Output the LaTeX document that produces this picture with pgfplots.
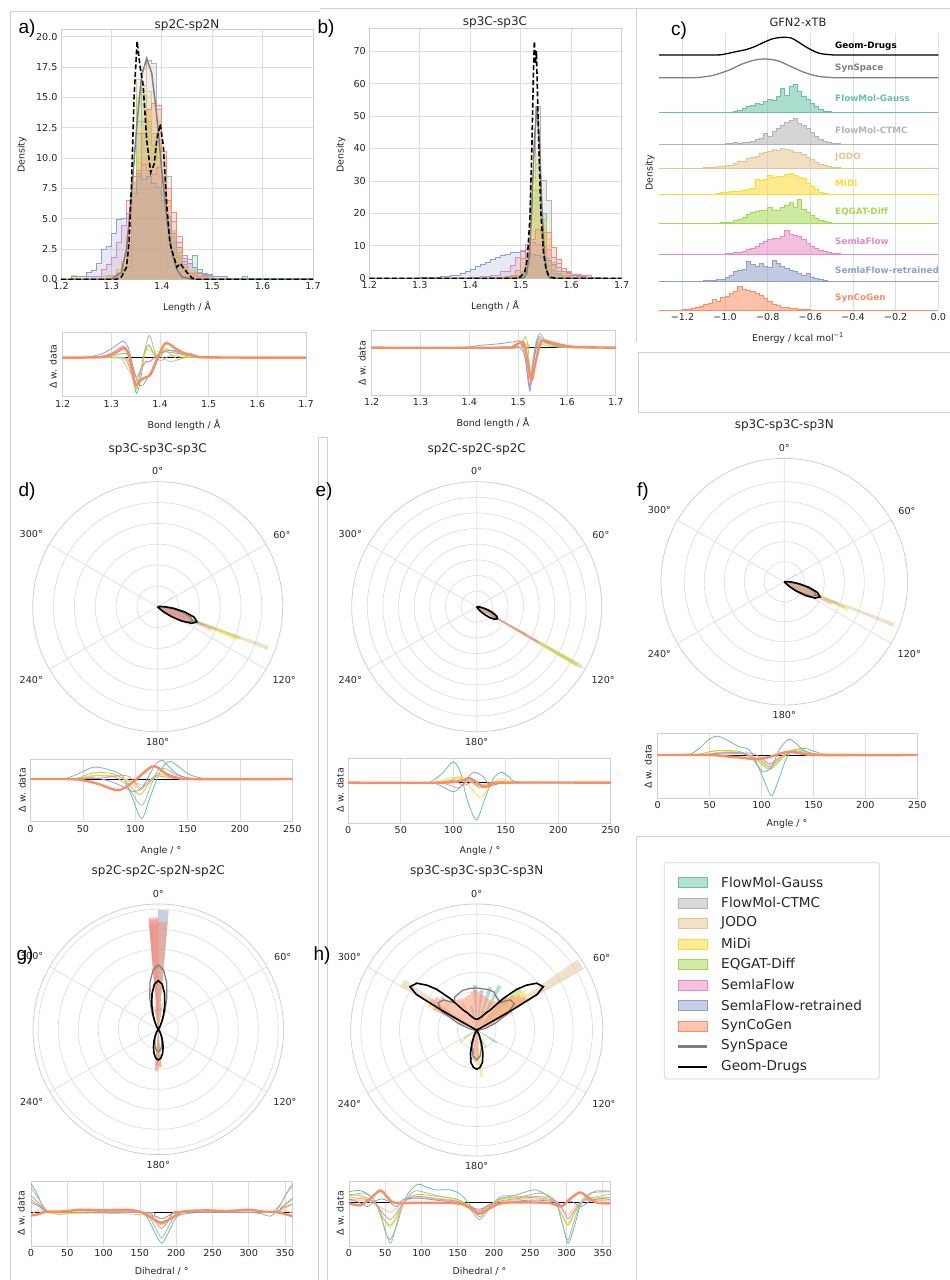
\documentclass[border=0pt]{standalone}
\usepackage{pgfplots}
\pgfplotsset{compat=1.18}
\usepgfplotslibrary{polar}
\usepackage{fontspec}
\setmainfont{DejaVu Sans}
\newfontfamily\lab{Liberation Sans}

\definecolor{cFMG}{HTML}{66C2A5}
\definecolor{cCTMC}{HTML}{B3B3B3}
\definecolor{cJODO}{HTML}{E5C494}
\definecolor{cMiDi}{HTML}{FFD92F}
\definecolor{cEQ}{HTML}{A6D854}
\definecolor{cSemla}{HTML}{E78AC3}
\definecolor{cSemlaR}{HTML}{8DA0CB}
\definecolor{cSyn}{HTML}{FC8D62}
\definecolor{cSS}{HTML}{808080}
\definecolor{gridc}{HTML}{DEDEDE}
\definecolor{framec}{HTML}{CFCFCF}
\definecolor{tickc}{HTML}{262626}
\definecolor{boxc}{HTML}{D0D0D0}

\newcommand{\fTk}{\fontsize{9.6}{11}\selectfont}
\newcommand{\fTtl}{\fontsize{12}{14}\selectfont}
\newcommand{\fLbl}{\fontsize{9.4}{11}\selectfont}
\newcommand{\fPl}{\lab\fontsize{19}{21}\selectfont}
\newcommand{\fRl}{\bfseries\fontsize{8.8}{10}\selectfont}
\newcommand{\fLg}{\fontsize{13.6}{15}\selectfont}

\pgfplotsset{
  base/.style={scale only axis, axis line style={draw=framec, line width=0.8pt},
    major tick length=0pt, grid style={draw=gridc, line width=0.7pt},
    tick label style={font=\fTk, text=tickc},
    /pgf/number format/assume math mode=true},
  hb/.style={const plot, color=#1, fill=#1, fill opacity=0.22, line width=0.9pt},
  dl/.style={color=#1, line width=0.8pt, smooth},
  dth/.style={color=cSyn, line width=2.4pt, smooth},
  rh/.style={const plot, color=#1, fill=#1, fill opacity=0.55, line width=0.9pt},
  pb/.style={draw=none, fill=#1, fill opacity=0.5},
  dax/.style={base, xmajorgrids, ytick=\empty, anchor=south west},
  pol/.style={base, width=#1, height=#1, anchor=center, ymin=0,
    xtick={30,90,150,210,270,330},
    xticklabels={60°,0°,300°,240°,180°,120°},
    xticklabel style={inner sep=6.5pt},
    yticklabels={}, grid=major,
    x filter/.expression={mod(450-x,360)},
    y axis line style={draw=none}},
  ridge/.style={hide axis, scale only axis, width=279.3pt, height=40pt,
    xmin=-1.31, xmax=0, ymin=0, ymax=40, clip=false, anchor=south west},
}

\begin{document}
\begin{tikzpicture}
\useasboundingbox (0,0) rectangle (950pt,-1280pt);

% panel frames
\begin{scope}[boxc, line width=0.7pt]
\draw (10pt,-11pt) -- (320pt,-11pt);
\draw (10pt,-11pt) -- (10pt,-1280pt);
\draw (320pt,-8pt) -- (950pt,-8pt);
\draw (636.7pt,-8pt) -- (636.7pt,-342pt);
\draw (638pt,-352.7pt) rectangle (955pt,-412.3pt);
\draw (318.7pt,-437pt) -- (318.7pt,-1280pt);
\draw (327pt,-437pt) -- (327pt,-1280pt);
\draw (318.7pt,-437pt) -- (327pt,-437pt);
\draw (636.7pt,-836.7pt) -- (950pt,-836.7pt);
\draw (636.7pt,-836.7pt) -- (636.7pt,-1280pt);
\end{scope}

% ---------------- a) sp2C-sp2N
\begin{axis}[base, grid=major, width=252pt, height=250pt, at={(61pt,-279.3pt)}, anchor=south west,
  xmin=1.2, xmax=1.7, ymin=0, ymax=20.6,
  xtick={1.2,1.3,1.4,1.5,1.6,1.7},
  ytick={0,2.5,5,7.5,10,12.5,15,17.5,20},
  yticklabels={0.0,2.5,5.0,7.5,10.0,12.5,15.0,17.5,20.0}]
\addplot[hb=cFMG] coordinates {(1.20,0)(1.22,0.1)(1.30,0.3)(1.32,0.8)(1.33,2.5)(1.34,8.0)(1.35,12.0)(1.36,13.0)(1.37,14.0)(1.38,11.0)(1.39,10.0)(1.40,7.0)(1.41,5.0)(1.42,3.5)(1.43,2.2)(1.44,1.5)(1.45,1.3)(1.46,2.0)(1.47,0.8)(1.48,0.5)(1.49,0.3)(1.50,0.1)(1.56,0.2)(1.57,0.05)(1.70,0)};
\addplot[hb=cCTMC] coordinates {(1.20,0)(1.30,0.3)(1.32,1.0)(1.33,2.5)(1.34,8.0)(1.35,13.0)(1.36,16.0)(1.37,18.0)(1.38,17.8)(1.39,14.0)(1.40,10.5)(1.41,8.5)(1.42,4.0)(1.43,2.0)(1.44,1.0)(1.45,0.6)(1.46,0.3)(1.48,0.1)(1.50,0)(1.70,0)};
\addplot[hb=cJODO] coordinates {(1.20,0)(1.28,0.2)(1.31,0.6)(1.32,1.5)(1.33,3.5)(1.34,8.5)(1.35,16.5)(1.36,17.3)(1.37,15.5)(1.38,14.5)(1.39,13.0)(1.40,9.0)(1.41,6.0)(1.42,3.5)(1.43,2.0)(1.44,1.0)(1.45,0.6)(1.47,0.2)(1.50,0)(1.70,0)};
\addplot[hb=cMiDi] coordinates {(1.20,0)(1.22,0.3)(1.23,0.1)(1.29,0.3)(1.31,0.8)(1.32,1.5)(1.33,3.0)(1.34,7.5)(1.35,10.0)(1.36,12.5)(1.37,14.0)(1.38,12.0)(1.39,11.0)(1.40,8.0)(1.41,6.5)(1.42,4.0)(1.43,2.5)(1.44,1.2)(1.45,0.7)(1.47,0.3)(1.50,0)(1.70,0)};
\addplot[hb=cEQ] coordinates {(1.20,0)(1.30,0.3)(1.32,0.8)(1.33,1.0)(1.34,8.0)(1.35,15.0)(1.36,15.2)(1.37,13.0)(1.38,12.0)(1.39,11.5)(1.40,8.5)(1.41,4.5)(1.42,3.0)(1.43,1.8)(1.44,1.0)(1.45,0.5)(1.47,0.2)(1.50,0)(1.70,0)};
\addplot[hb=cSemla] coordinates {(1.20,0)(1.25,0.2)(1.28,0.8)(1.29,1.2)(1.30,1.8)(1.31,3.0)(1.32,4.4)(1.33,6.5)(1.34,7.5)(1.35,8.5)(1.36,9.5)(1.37,9.0)(1.38,8.6)(1.39,9.2)(1.40,8.0)(1.41,6.5)(1.42,4.8)(1.43,3.5)(1.44,2.0)(1.45,1.6)(1.46,1.0)(1.47,0.6)(1.48,0.3)(1.50,0.1)(1.52,0)(1.70,0)};
\addplot[hb=cSemlaR] coordinates {(1.20,0)(1.22,0.2)(1.25,0.6)(1.26,0.7)(1.27,1.3)(1.28,2.5)(1.29,2.7)(1.30,3.8)(1.31,4.9)(1.32,5.0)(1.33,5.4)(1.34,7.1)(1.35,8.7)(1.36,8.2)(1.37,8.5)(1.38,7.9)(1.39,7.6)(1.40,6.5)(1.41,5.2)(1.42,3.8)(1.43,2.6)(1.44,1.7)(1.45,1.3)(1.46,1.0)(1.47,0.5)(1.48,0.36)(1.50,0.2)(1.53,0.1)(1.54,0)(1.70,0)};
\addplot[hb=cSyn] coordinates {(1.20,0)(1.28,0.1)(1.31,0.5)(1.32,1.0)(1.33,3.0)(1.34,8.5)(1.35,9.0)(1.36,12.0)(1.37,14.0)(1.38,14.5)(1.39,14.3)(1.40,10.5)(1.41,7.5)(1.42,5.5)(1.43,3.0)(1.44,1.2)(1.45,0.5)(1.47,0.2)(1.49,0)(1.70,0)};
\addplot[cSS, line width=1.5pt] coordinates {(1.2,0)(1.30,0)(1.32,0.6)(1.33,2.5)(1.34,7.0)(1.35,12.5)(1.36,16.8)(1.37,18.2)(1.38,17.0)(1.39,13.5)(1.40,9.0)(1.41,5.0)(1.42,2.2)(1.43,0.8)(1.44,0.2)(1.46,0)(1.7,0)};
\addplot[black, line width=1.6pt, dash pattern=on 5pt off 2.5pt] coordinates {(1.2,0)(1.31,0)(1.32,0.2)(1.33,1.0)(1.335,3.0)(1.34,8.0)(1.345,15.0)(1.351,19.6)(1.357,17.5)(1.363,16.0)(1.37,11.5)(1.378,8.8)(1.385,9.5)(1.39,11.5)(1.397,12.8)(1.403,11.0)(1.41,6.0)(1.416,3.0)(1.42,2.4)(1.43,1.0)(1.437,1.3)(1.445,0.8)(1.46,0.1)(1.47,0)(1.7,0)};
\end{axis}

% a) delta
\begin{axis}[dax, width=243.3pt, height=64pt, at={(62.7pt,-396.7pt)},
  xmin=1.2, xmax=1.7, ymin=-6.1, ymax=3.9, xtick={1.2,1.3,1.4,1.5,1.6,1.7}]
\addplot[black, line width=0.6pt] coordinates {(1.2,0)(1.7,0)};
\addplot[dl=cFMG] coordinates {(1.2,0)(1.29,0.1)(1.32,0.6)(1.335,0.3)(1.345,-3.5)(1.352,-5.6)(1.36,-3.5)(1.368,0.5)(1.377,2.0)(1.385,1.0)(1.395,0.3)(1.41,1.2)(1.43,1.0)(1.45,0.4)(1.48,0.1)(1.5,0)(1.7,0)};
\addplot[dl=cCTMC] coordinates {(1.2,0)(1.30,0)(1.33,-0.4)(1.345,-3.5)(1.352,-4.8)(1.36,-2.5)(1.368,1.0)(1.378,3.5)(1.387,1.5)(1.395,-0.2)(1.405,-0.4)(1.42,0.3)(1.44,0.2)(1.46,0.05)(1.7,0)};
\addplot[dl=cJODO] coordinates {(1.2,0)(1.30,0)(1.32,-0.1)(1.35,-3.7)(1.36,-2.0)(1.37,-0.9)(1.385,-0.3)(1.40,0.2)(1.42,-0.6)(1.44,-0.3)(1.47,0)(1.7,0)};
\addplot[dl=cMiDi] coordinates {(1.2,0)(1.31,0)(1.335,-0.5)(1.35,-4.6)(1.36,-2.0)(1.372,1.2)(1.385,0.9)(1.40,1.0)(1.41,1.5)(1.43,0.8)(1.45,0.2)(1.48,0)(1.7,0)};
\addplot[dl=cEQ] coordinates {(1.2,0)(1.31,0)(1.335,-0.5)(1.35,-5.0)(1.36,-2.0)(1.368,0.8)(1.377,2.0)(1.388,0.4)(1.40,0.1)(1.41,1.1)(1.425,0.3)(1.44,-0.3)(1.455,0.2)(1.48,0)(1.7,0)};
\addplot[dl=cSemla] coordinates {(1.2,0)(1.27,0.1)(1.30,0.7)(1.325,1.8)(1.337,0.5)(1.35,-3.0)(1.36,-2.0)(1.37,-0.6)(1.38,-0.6)(1.39,0.2)(1.41,0.9)(1.44,0.6)(1.46,0.7)(1.48,0.2)(1.5,0)(1.7,0)};
\addplot[dl=cSemlaR] coordinates {(1.2,0)(1.25,0.1)(1.28,0.6)(1.30,1.4)(1.315,2.2)(1.325,2.6)(1.335,1.5)(1.345,-1.5)(1.355,-4.0)(1.365,-4.3)(1.375,-3.0)(1.385,-1.6)(1.395,0.2)(1.41,1.0)(1.43,1.1)(1.45,0.6)(1.47,0.3)(1.49,0.05)(1.7,0)};
\addplot[dth] coordinates {(1.2,0)(1.28,0.1)(1.31,0.8)(1.325,1.5)(1.335,0.6)(1.343,-2.0)(1.35,-4.3)(1.36,-3.5)(1.37,-3.1)(1.38,-2.7)(1.39,-1.0)(1.40,0.8)(1.41,2.2)(1.42,2.1)(1.43,1.5)(1.45,0.7)(1.47,0.3)(1.5,0.05)(1.7,0)};
\end{axis}

% ---------------- b) sp3C-sp3C
\begin{axis}[base, grid=major, width=252.4pt, height=250pt, at={(369.3pt,-278.3pt)}, anchor=south west,
  xmin=1.2, xmax=1.7, ymin=0, ymax=77,
  xtick={1.2,1.3,1.4,1.5,1.6,1.7}, ytick={0,10,20,30,40,50,60,70}]
\addplot[hb=cFMG] coordinates {(1.20,0)(1.44,0.2)(1.47,0.5)(1.49,1.0)(1.50,2.0)(1.51,4.0)(1.52,25.0)(1.53,27.0)(1.54,20.0)(1.55,6.0)(1.56,2.5)(1.57,1.2)(1.58,0.5)(1.60,0.2)(1.62,0)(1.70,0)};
\addplot[hb=cCTMC] coordinates {(1.20,0)(1.45,0.2)(1.48,0.6)(1.50,1.5)(1.51,4.0)(1.52,27.0)(1.53,53.0)(1.54,30.0)(1.55,24.0)(1.56,5.0)(1.57,2.0)(1.58,0.8)(1.60,0.3)(1.62,0)(1.70,0)};
\addplot[hb=cJODO] coordinates {(1.20,0)(1.46,0.3)(1.48,0.8)(1.50,2.0)(1.51,6.0)(1.52,25.0)(1.53,38.0)(1.54,18.0)(1.55,10.0)(1.56,4.0)(1.57,1.5)(1.58,0.6)(1.60,0.2)(1.62,0)(1.70,0)};
\addplot[hb=cMiDi] coordinates {(1.20,0)(1.46,0.3)(1.48,0.8)(1.50,2.0)(1.51,5.0)(1.52,18.0)(1.53,30.0)(1.54,15.0)(1.55,12.0)(1.56,4.0)(1.57,1.5)(1.59,0.4)(1.62,0)(1.70,0)};
\addplot[hb=cEQ] coordinates {(1.20,0)(1.46,0.3)(1.48,0.8)(1.50,2.0)(1.51,4.0)(1.52,31.0)(1.53,35.0)(1.54,18.0)(1.55,4.0)(1.56,1.5)(1.58,0.4)(1.60,0)(1.70,0)};
\addplot[hb=cSemla] coordinates {(1.20,0)(1.40,0.3)(1.42,0.6)(1.44,1.0)(1.46,2.0)(1.48,4.0)(1.49,6.5)(1.50,8.5)(1.51,10.5)(1.52,11.0)(1.53,10.5)(1.54,9.8)(1.55,9.0)(1.56,6.5)(1.57,4.5)(1.58,3.0)(1.59,2.0)(1.60,1.3)(1.62,0.8)(1.64,0.4)(1.66,0.1)(1.68,0)(1.70,0)};
\addplot[hb=cSemlaR] coordinates {(1.20,0)(1.30,0.15)(1.32,0.3)(1.34,0.6)(1.36,1.0)(1.38,1.6)(1.39,2.2)(1.40,2.8)(1.41,3.5)(1.42,4.3)(1.43,5.0)(1.44,5.8)(1.45,6.4)(1.46,7.0)(1.47,7.5)(1.48,7.9)(1.49,8.1)(1.50,8.2)(1.51,7.7)(1.52,7.3)(1.53,7.0)(1.54,6.3)(1.55,5.5)(1.56,4.3)(1.57,3.2)(1.58,2.2)(1.59,1.5)(1.60,1.0)(1.61,0.6)(1.63,0.3)(1.65,0.1)(1.67,0)(1.70,0)};
\addplot[hb=cSyn] coordinates {(1.20,0)(1.46,0.3)(1.48,1.0)(1.49,2.5)(1.50,6.0)(1.51,9.0)(1.52,12.0)(1.53,15.0)(1.54,14.0)(1.55,14.0)(1.56,9.5)(1.57,5.8)(1.58,3.0)(1.59,1.8)(1.60,0.8)(1.62,0.3)(1.64,0)(1.70,0)};
\addplot[cSS, line width=1.5pt] coordinates {(1.2,0)(1.50,0)(1.507,0.2)(1.512,1.5)(1.517,7.2)(1.522,21.8)(1.527,42.4)(1.532,53)(1.537,42.4)(1.542,21.8)(1.547,7.2)(1.552,1.5)(1.557,0.2)(1.565,0)(1.7,0)};
\addplot[black, line width=1.6pt, dash pattern=on 5pt off 2.5pt] coordinates {(1.2,0)(1.49,0)(1.50,0.5)(1.508,2)(1.513,6)(1.518,18)(1.522,40)(1.525,62)(1.527,73)(1.529,66)(1.531,70)(1.533,58)(1.536,40)(1.54,20)(1.545,8)(1.55,3)(1.555,1)(1.56,0.3)(1.57,0)(1.7,0)};
\end{axis}

% b) delta
\begin{axis}[dax, width=244.1pt, height=64.3pt, at={(371.7pt,-395pt)},
  xmin=1.2, xmax=1.7, ymin=-7.36, ymax=2.64, xtick={1.2,1.3,1.4,1.5,1.6,1.7}]
\addplot[black, line width=0.6pt] coordinates {(1.2,0)(1.7,0)};
\addplot[dl=cFMG] coordinates {(1.2,0)(1.5,0)(1.515,-0.5)(1.525,-3.9)(1.533,-0.8)(1.542,1.7)(1.555,1.0)(1.58,0.3)(1.61,0)(1.7,0)};
\addplot[dl=cCTMC] coordinates {(1.2,0)(1.48,0)(1.505,-0.2)(1.515,-1.7)(1.523,-5.8)(1.53,-2)(1.537,1.0)(1.545,2.2)(1.555,1.2)(1.575,0.5)(1.6,0.1)(1.7,0)};
\addplot[dl=cJODO] coordinates {(1.2,0)(1.5,0)(1.515,0.4)(1.525,-3.5)(1.535,-1.0)(1.55,0.7)(1.58,0.2)(1.7,0)};
\addplot[dl=cMiDi] coordinates {(1.2,0)(1.5,0)(1.515,0.3)(1.525,-4.1)(1.535,-0.8)(1.545,1.2)(1.56,0.6)(1.6,0)(1.7,0)};
\addplot[dl=cEQ] coordinates {(1.2,0)(1.49,0)(1.505,0.6)(1.515,1.7)(1.52,0.2)(1.526,-4.5)(1.533,-1.5)(1.54,0.5)(1.56,0.3)(1.6,0)(1.7,0)};
\addplot[dl=cSemla] coordinates {(1.2,0)(1.48,0.1)(1.51,0.4)(1.518,-2)(1.524,-6.8)(1.53,-3)(1.54,0.8)(1.56,0.8)(1.58,0.4)(1.6,0.1)(1.7,0)};
\addplot[dl=cSemlaR] coordinates {(1.2,0)(1.38,0.05)(1.42,0.35)(1.46,0.6)(1.49,0.9)(1.505,0.9)(1.515,-2)(1.523,-6.3)(1.53,-3)(1.54,1.2)(1.55,1.0)(1.57,0.5)(1.6,0.1)(1.7,0)};
\addplot[dth] coordinates {(1.2,0)(1.47,0)(1.49,0.2)(1.51,0.9)(1.518,-1.5)(1.527,-5.1)(1.535,-2.5)(1.545,0.6)(1.553,1.1)(1.57,0.8)(1.59,0.4)(1.62,0.1)(1.7,0)};
\end{axis}

% ---------------- c) GFN2-xTB ridge plot
\begin{axis}[base, width=279.3pt, height=276.7pt, at={(659pt,-310pt)}, anchor=south west,
  xmin=-1.31, xmax=0, ymin=0, ymax=1, xmajorgrids, ytick=\empty,
  axis line style={draw=none},
  xtick={-1.2,-1,-0.8,-0.6,-0.4,-0.2,0},
  xticklabels={−1.2,−1.0,−0.8,−0.6,−0.4,−0.2,0.0}]
\end{axis}
\begin{axis}[ridge, at={(659pt,-55pt)}]
\addplot[black, line width=1.3pt, smooth] coordinates {(-1.31,0)(-1.05,0)(-1.0,1.0)(-0.95,3.3)(-0.9,5.5)(-0.86,8.5)(-0.82,12.5)(-0.78,16)(-0.75,17.3)(-0.72,17.7)(-0.69,17)(-0.66,13.5)(-0.62,8)(-0.58,3.5)(-0.55,1.3)(-0.50,0.2)(-0.45,0)(0,0)};
\end{axis}
\begin{axis}[ridge, at={(659pt,-77.7pt)}]
\addplot[cSS, line width=1.3pt, smooth] coordinates {(-1.31,0)(-1.15,0)(-1.10,0.8)(-1.05,2.7)(-0.98,7.7)(-0.92,13.7)(-0.86,17.7)(-0.805,18.7)(-0.75,16.7)(-0.69,11)(-0.625,5)(-0.56,1.3)(-0.50,0.2)(-0.45,0)(0,0)};
\end{axis}
\begin{axis}[ridge, at={(659pt,-112.7pt)}]
\addplot[cFMG, line width=1pt] coordinates {(-1.31,0)(0,0)};
\addplot[rh=cFMG] coordinates {(-1.02,0)(-1.00,0.3)(-0.98,0.5)(-0.96,1.5)(-0.94,2.5)(-0.92,4)(-0.90,6)(-0.88,7)(-0.86,9)(-0.84,8)(-0.82,11)(-0.80,13)(-0.78,12)(-0.76,16)(-0.74,24)(-0.72,17)(-0.70,26)(-0.68,28)(-0.66,21)(-0.64,16)(-0.62,13)(-0.60,9)(-0.58,6)(-0.56,3)(-0.54,1.5)(-0.52,0.8)(-0.50,0.5)(-0.48,0.3)(-0.46,0)};
\end{axis}
\begin{axis}[ridge, at={(659pt,-144pt)}]
\addplot[cCTMC, line width=1pt] coordinates {(-1.31,0)(0,0)};
\addplot[rh=cCTMC] coordinates {(-1.02,0)(-1.00,0.3)(-0.98,0.6)(-0.96,1.3)(-0.94,1)(-0.92,1.3)(-0.90,2)(-0.88,2.5)(-0.86,4.5)(-0.84,6)(-0.82,10.7)(-0.80,8)(-0.78,12.5)(-0.76,16)(-0.74,19)(-0.72,22)(-0.70,24)(-0.68,25.7)(-0.66,21)(-0.64,19)(-0.62,15.5)(-0.60,12)(-0.58,7.5)(-0.56,4.5)(-0.54,3)(-0.52,2)(-0.50,1)(-0.48,0.5)(-0.46,0)};
\end{axis}
\begin{axis}[ridge, at={(659pt,-168.3pt)}]
\addplot[cJODO, line width=1pt] coordinates {(-1.31,0)(0,0)};
\addplot[rh=cJODO] coordinates {(-1.12,0)(-1.10,0.5)(-1.08,0.7)(-1.06,1)(-1.04,1.5)(-1.02,2)(-1.00,2.5)(-0.98,3)(-0.96,5)(-0.94,6.5)(-0.92,7)(-0.90,10)(-0.88,11)(-0.86,12)(-0.84,15)(-0.82,15.5)(-0.80,17)(-0.78,18.5)(-0.76,18)(-0.74,20)(-0.72,19)(-0.70,18)(-0.68,16)(-0.66,15.5)(-0.64,14)(-0.62,11)(-0.60,9)(-0.58,5.5)(-0.56,4)(-0.54,2.5)(-0.52,1.5)(-0.50,0.8)(-0.48,0.4)(-0.46,0)};
\end{axis}
\begin{axis}[ridge, at={(659pt,-194pt)}]
\addplot[cMiDi, line width=1pt] coordinates {(-1.31,0)(0,0)};
\addplot[rh=cMiDi] coordinates {(-1.06,0)(-1.04,0.8)(-1.02,1.3)(-1.00,1.5)(-0.98,2.3)(-0.96,2.3)(-0.94,3)(-0.92,4)(-0.90,5)(-0.88,6)(-0.86,15)(-0.84,14)(-0.82,14.5)(-0.80,19)(-0.78,17)(-0.76,17.5)(-0.74,18)(-0.72,20)(-0.70,20.5)(-0.68,19)(-0.66,17)(-0.64,15.5)(-0.62,11)(-0.60,8)(-0.58,5)(-0.56,1.5)(-0.54,0.5)(-0.52,0)};
\end{axis}
\begin{axis}[ridge, at={(659pt,-223.3pt)}]
\addplot[cEQ, line width=1pt] coordinates {(-1.31,0)(0,0)};
\addplot[rh=cEQ] coordinates {(-1.04,0)(-1.02,0.5)(-1.00,0.7)(-0.98,1.3)(-0.96,2.7)(-0.94,4)(-0.92,5.5)(-0.90,9)(-0.88,10.5)(-0.86,11.7)(-0.84,12.5)(-0.82,13.3)(-0.80,16)(-0.78,13)(-0.76,12.7)(-0.74,15.5)(-0.72,18)(-0.70,20.7)(-0.68,16)(-0.66,24)(-0.64,14)(-0.62,11)(-0.60,8)(-0.58,5)(-0.56,3)(-0.54,1.5)(-0.52,0.7)(-0.50,0)};
\end{axis}
\begin{axis}[ridge, at={(659pt,-254.3pt)}]
\addplot[cSemla, line width=1pt] coordinates {(-1.31,0)(0,0)};
\addplot[rh=cSemla] coordinates {(-1.02,0)(-1.00,0.5)(-0.98,1)(-0.96,1.7)(-0.94,2.3)(-0.92,3)(-0.90,4.5)(-0.88,6)(-0.86,8)(-0.84,10.5)(-0.82,13)(-0.80,15)(-0.78,15.5)(-0.76,16)(-0.74,17.5)(-0.72,24)(-0.70,19.5)(-0.68,18.5)(-0.66,17.5)(-0.64,15)(-0.62,11)(-0.60,8)(-0.58,5.5)(-0.56,3.5)(-0.54,2.5)(-0.52,1.5)(-0.50,1)(-0.48,0.7)(-0.46,0.3)(-0.44,0)};
\end{axis}
\begin{axis}[ridge, at={(659pt,-281.7pt)}]
\addplot[cSemlaR, line width=1pt] coordinates {(-1.31,0)(0,0)};
\addplot[rh=cSemlaR] coordinates {(-1.16,0)(-1.14,0.5)(-1.12,0.7)(-1.10,0.9)(-1.08,1.2)(-1.06,1.7)(-1.04,2)(-1.02,2.5)(-1.00,4)(-0.98,6.7)(-0.96,10)(-0.94,11.7)(-0.92,12)(-0.90,20)(-0.88,17)(-0.86,15)(-0.84,18.5)(-0.82,15.5)(-0.80,14.5)(-0.78,21.5)(-0.76,18)(-0.74,15)(-0.72,13)(-0.70,11.5)(-0.68,10)(-0.66,8.5)(-0.64,6.5)(-0.62,8)(-0.60,4)(-0.58,3)(-0.56,1.8)(-0.54,1)(-0.52,0.5)(-0.50,0)};
\end{axis}
\begin{axis}[ridge, at={(659pt,-310pt)}]
\addplot[cSyn, line width=1pt] coordinates {(-1.31,0)(0,0)};
\addplot[rh=cSyn] coordinates {(-1.22,0)(-1.20,0.5)(-1.18,1)(-1.16,2)(-1.14,3)(-1.12,4)(-1.10,5.5)(-1.08,7)(-1.06,11)(-1.04,9)(-1.02,13)(-1.00,14)(-0.98,16.5)(-0.96,19)(-0.94,23.5)(-0.92,21)(-0.90,20)(-0.88,19)(-0.86,17)(-0.84,15)(-0.82,12)(-0.80,8.5)(-0.78,6)(-0.76,4.5)(-0.74,3)(-0.72,2.5)(-0.70,1.8)(-0.68,1.2)(-0.66,0.8)(-0.64,0.5)(-0.62,0.3)(-0.60,0)};
\end{axis}

% ---------------- d) sp3C-sp3C-sp3C
\begin{polaraxis}[pol=250pt, at={(157.7pt,-606.7pt)}, ymax=125,
  ytick={20.83,41.67,62.5,83.33,104.17}]
\addplot[pb=cSemlaR] coordinates {(94,0)(94,8)(98,8)(98,18)(102,18)(102,28)(106,28)(106,36)(110,36)(110,40)(114,40)(114,30)(118,30)(118,18)(122,18)(122,8)(126,8)(126,3)(130,3)(130,0)};
\addplot[pb=cSemla] coordinates {(98,0)(98,12)(102,12)(102,24)(106,24)(106,36)(110,36)(110,44)(114,44)(114,34)(118,34)(118,20)(122,20)(122,8)(126,8)(126,0)};
\addplot[pb=cJODO] coordinates {(109.5,0)(109.5,118)(111.5,118)(111.5,0)};
\addplot[pb=cEQ] coordinates {(110,0)(110,88)(112,88)(112,0)};
\addplot[pb=cEQ] coordinates {(56,0)(56,18)(58,18)(58,0)};
\addplot[pb=cMiDi] coordinates {(111,0)(111,85)(113,85)(113,0)};
\addplot[pb=cCTMC] coordinates {(110,0)(110,62)(112,62)(112,0)};
\addplot[pb=cFMG] coordinates {(110.5,0)(110.5,50)(112.5,50)(112.5,0)};
\addplot[pb=cSyn] coordinates {(96,0)(96,6)(100,6)(100,14)(104,14)(104,26)(108,26)(108,38)(112,38)(112,58)(114,58)(114,40)(116,40)(116,30)(120,30)(120,16)(124,16)(124,7)(128,7)(128,2)(132,2)(132,0)};
\addplot[cSS, line width=1.3pt] coordinates {(62,0)(82,0.4)(87,1.7)(92,5.1)(97,12.3)(102,23.1)(107,33.5)(112,38)(117,33.5)(122,23.1)(127,12.3)(132,5.1)(137,1.7)(142,0.4)(162,0)};
\addplot[black, line width=1.6pt] coordinates {(56,0)(76,0.3)(81,1.0)(86,3.2)(91,8.0)(96,16.6)(101,27.8)(106,37.9)(111,42)(116,37.9)(121,27.8)(126,16.6)(131,8.0)(136,3.2)(141,1.0)(146,0.3)(166,0)};
\end{polaraxis}

% d) delta
\begin{axis}[dax, width=261.8pt, height=62.4pt, at={(30.5pt,-821.7pt)},
  xmin=0, xmax=250, ymin=-6.84, ymax=3.16, xtick={0,50,100,150,200,250}]
\addplot[black, line width=0.6pt] coordinates {(0,0)(250,0)};
\addplot[dl=cFMG] coordinates {(0,0)(30,0)(45,0.8)(60,1.9)(75,1.5)(88,0.5)(96,-2.5)(106,-6.3)(114,-3)(122,0.5)(128,2.3)(134,2.8)(142,1.9)(152,0.7)(165,0.1)(180,0)(250,0)};
\addplot[dl=cCTMC] coordinates {(0,0)(40,0)(60,0.5)(80,0.3)(92,-1.0)(106,-4.2)(115,-1.0)(122,1.5)(130,1.6)(140,0.6)(155,0.1)(170,0)(250,0)};
\addplot[dl=cJODO] coordinates {(0,0)(40,0)(65,0.6)(85,0.3)(100,-0.6)(110,-1.0)(120,0.3)(132,0.5)(150,0.1)(250,0)};
\addplot[dl=cMiDi] coordinates {(0,0)(40,0)(60,0.6)(80,0.5)(95,-0.4)(105,-1.8)(113,-0.3)(122,0.7)(132,0.5)(150,0.1)(250,0)};
\addplot[dl=cEQ] coordinates {(0,0)(40,0)(60,1.0)(80,0.8)(92,-0.5)(104,-2.5)(112,-1.0)(120,0.8)(128,0.9)(140,0.3)(160,0)(250,0)};
\addplot[dl=cSemla] coordinates {(0,0)(40,0)(70,0.2)(85,0.6)(95,0.3)(105,-1.5)(112,-0.5)(120,0.5)(130,0.3)(150,0)(250,0)};
\addplot[dl=cSemlaR] coordinates {(0,0)(40,0)(60,0.2)(75,-0.3)(88,-1.2)(98,-2.0)(106,-1.5)(114,0.8)(120,2.5)(126,3.0)(132,2.0)(140,0.8)(150,0.2)(165,0)(250,0)};
\addplot[dth] coordinates {(0,0)(35,0)(50,-0.2)(65,-0.8)(76,-1.5)(84,-1.8)(92,-1.2)(100,-0.2)(108,1.0)(116,2.0)(122,1.8)(130,0.8)(140,0.2)(155,0)(250,0)};
\end{axis}

% ---------------- e) sp2C-sp2C-sp2C
\begin{polaraxis}[pol=250pt, at={(476.7pt,-606.7pt)}, ymax=125,
  ytick={15.625,31.25,46.875,62.5,78.125,93.75,109.375}]
\addplot[pb=cSemlaR] coordinates {(104,0)(104,6)(108,6)(108,12)(112,12)(112,18)(116,18)(116,24)(120,24)(120,20)(124,20)(124,12)(128,12)(128,6)(132,6)(132,0)};
\addplot[pb=cJODO] coordinates {(118.8,0)(118.8,121)(121,121)(121,0)};
\addplot[pb=cMiDi] coordinates {(119,0)(119,110)(121,110)(121,0)};
\addplot[pb=cEQ] coordinates {(119,0)(119,116)(120.8,116)(120.8,0)};
\addplot[pb=cCTMC] coordinates {(119,0)(119,70)(121,70)(121,0)};
\addplot[pb=cSemla] coordinates {(119,0)(119,72)(121,72)(121,0)};
\addplot[pb=cSyn] coordinates {(106,0)(106,6)(110,6)(110,12)(114,12)(114,20)(118,20)(118,57)(121,57)(121,20)(124,20)(124,12)(128,12)(128,5)(132,5)(132,0)};
\addplot[cSS, line width=1.3pt] coordinates {(76,0)(91,0.5)(96,1.7)(101,4.2)(106,8.7)(111,14.5)(116,19.8)(121,22)(126,19.8)(131,14.5)(136,8.7)(141,4.2)(146,1.7)(151,0.5)(166,0)};
\addplot[black, line width=1.6pt] coordinates {(70,0)(85,0.3)(90,1.1)(95,2.7)(100,6)(105,11)(110,17)(115,22)(120,24)(125,22)(130,17)(135,11)(140,6)(145,2.7)(150,1.1)(155,0.3)(170,0)};
\end{polaraxis}

% e) delta
\begin{axis}[dax, width=262.4pt, height=65pt, at={(348.3pt,-823.3pt)},
  xmin=0, xmax=250, ymin=-6.25, ymax=3.75, xtick={0,50,100,150,200,250}]
\addplot[black, line width=0.6pt] coordinates {(0,0)(250,0)};
\addplot[dl=cFMG] coordinates {(0,0)(70,0)(80,0.3)(90,1.5)(100,3.2)(107,1.5)(113,-2.5)(122,-5.7)(130,-2.5)(138,0.6)(146,1.6)(154,0.8)(165,0.1)(250,0)};
\addplot[dl=cCTMC] coordinates {(0,0)(80,0)(95,-0.3)(105,-0.8)(115,0.3)(125,-0.8)(135,-0.3)(145,0.2)(160,0)(250,0)};
\addplot[dl=cJODO] coordinates {(0,0)(80,0)(95,0.3)(105,0.9)(115,0.4)(125,-0.4)(140,0.2)(155,0)(250,0)};
\addplot[dl=cMiDi] coordinates {(0,0)(75,0)(90,0.4)(100,0.8)(110,0.5)(120,-1.5)(127,-2.2)(135,-0.5)(145,0.6)(155,0.2)(165,0)(250,0)};
\addplot[dl=cEQ] coordinates {(0,0)(80,0)(95,0.2)(105,0.6)(115,0.2)(125,-0.5)(135,-0.2)(150,0)(250,0)};
\addplot[dl=cSemla] coordinates {(0,0)(80,0)(100,0.3)(110,-0.4)(120,0.2)(130,-0.6)(140,-0.3)(155,0)(250,0)};
\addplot[dl=cSemlaR] coordinates {(0,0)(75,0)(88,-0.5)(100,-1.4)(108,-0.5)(115,1.0)(120,1.6)(128,1.0)(135,-0.4)(142,-0.2)(155,0)(250,0)};
\addplot[dth] coordinates {(0,0)(85,0)(100,0.1)(110,0.4)(115,0.7)(122,0.1)(128,-0.6)(135,-0.5)(145,0)(250,0)};
\end{axis}

% ---------------- f) sp3C-sp3C-sp3N
\begin{polaraxis}[pol=246.6pt, at={(784.3pt,-581.7pt)}, ymax=123.3,
  ytick={20,40,60,80,100}]
\addplot[pb=cSemlaR] coordinates {(96,0)(96,8)(100,8)(100,16)(104,16)(104,26)(108,26)(108,34)(112,34)(112,38)(116,38)(116,28)(120,28)(120,16)(124,16)(124,7)(128,7)(128,0)};
\addplot[pb=cJODO] coordinates {(110.5,0)(110.5,118)(112.5,118)(112.5,0)};
\addplot[pb=cMiDi] coordinates {(112.5,0)(112.5,70)(114.5,70)(114.5,0)};
\addplot[pb=cEQ] coordinates {(112,0)(112,66)(114,66)(114,0)};
\addplot[pb=cCTMC] coordinates {(111,0)(111,58)(113,58)(113,0)};
\addplot[pb=cFMG] coordinates {(58,0)(58,15)(60,15)(60,0)};
\addplot[pb=cSyn] coordinates {(98,0)(98,8)(102,8)(102,18)(106,18)(106,30)(110,30)(110,40)(114,40)(114,52)(116,52)(116,30)(118,30)(118,26)(122,26)(122,12)(126,12)(126,4)(130,4)(130,0)};
\addplot[cSS, line width=1.3pt] coordinates {(63,0)(83,0.4)(88,1.5)(93,4.7)(98,11.4)(103,21.2)(108,30.9)(113,35)(118,30.9)(123,21.2)(128,11.4)(133,4.7)(138,1.5)(143,0.4)(163,0)};
\addplot[black, line width=1.6pt] coordinates {(58,0)(78,0.3)(83,0.94)(88,2.9)(93,7.4)(98,15.3)(103,25.6)(108,34.9)(113,38.7)(118,34.9)(123,25.6)(128,15.3)(133,7.4)(138,2.9)(143,0.94)(148,0.3)(168,0)};
\end{polaraxis}

% f) delta
\begin{axis}[dax, width=259.6pt, height=65pt, at={(657.7pt,-798.3pt)},
  xmin=0, xmax=250, ymin=-6.66, ymax=3.34, xtick={0,50,100,150,200,250}]
\addplot[black, line width=0.6pt] coordinates {(0,0)(250,0)};
\addplot[dl=cFMG] coordinates {(0,0)(28,0)(40,1.0)(50,2.5)(58,2.9)(68,2.2)(78,1.3)(88,0.8)(96,-1.5)(104,-4.5)(110,-6.3)(117,-3.5)(125,-0.2)(133,0.8)(142,1.0)(152,0.5)(170,0)(250,0)};
\addplot[dl=cCTMC] coordinates {(0,0)(40,0)(60,0.3)(85,0.2)(100,-1.0)(108,-1.8)(118,-0.5)(130,0.5)(140,0.5)(155,0.1)(250,0)};
\addplot[dl=cJODO] coordinates {(0,0)(40,0)(60,0.4)(80,0.3)(100,-0.8)(108,-1.5)(120,-0.3)(132,0.7)(145,0.2)(250,0)};
\addplot[dl=cMiDi] coordinates {(0,0)(35,0)(55,0.6)(80,0.4)(95,-0.6)(108,-2.0)(118,-0.6)(128,0.7)(136,0.9)(150,0.2)(250,0)};
\addplot[dl=cEQ] coordinates {(0,0)(35,0)(50,0.5)(60,0.7)(80,0.5)(95,-0.8)(108,-2.2)(118,-0.8)(128,0.6)(136,0.8)(150,0.2)(165,0)(250,0)};
\addplot[dl=cSemla] coordinates {(0,0)(40,0)(70,0.2)(90,0.3)(100,-0.5)(108,-1.3)(118,-0.3)(128,0.4)(145,0.1)(250,0)};
\addplot[dl=cSemlaR] coordinates {(0,0)(40,0)(60,0.3)(80,0.3)(90,-0.4)(97,-1.8)(102,-2.6)(110,-1.8)(117,0.8)(126,2.4)(133,1.8)(140,0.8)(150,0.2)(165,0)(250,0)};
\addplot[dth] coordinates {(0,0)(50,0)(65,-0.2)(80,-0.4)(92,-0.6)(102,-0.5)(112,-0.1)(122,0.4)(130,0.5)(140,0.2)(155,0)(250,0)};
\end{axis}

% ---------------- g) sp2C-sp2C-sp2N-sp2C
\begin{polaraxis}[pol=250.6pt, at={(158.3pt,-1029.3pt)}, ymax=125.3,
  ytick={20,40,60,80,100,120}]
\addplot[pb=cSemlaR] coordinates {(0,0)(0,119.3)(5,119.3)(5,0)};
\addplot[pb=cSemlaR] coordinates {(355,0)(355,105)(360,105)(360,0)};
\addplot[pb=cSemlaR] coordinates {(175,0)(175,30)(180,30)(180,32)(185,32)(185,0)};
\addplot[pb=cJODO] coordinates {(355,0)(355,108)(360,108)(360,0)};
\addplot[pb=cJODO] coordinates {(180,0)(180,43)(185,43)(185,0)};
\addplot[pb=cSemla] coordinates {(355,0)(355,112)(360,112)(360,0)};
\addplot[pb=cSemla] coordinates {(180,0)(180,40.7)(185,40.7)(185,0)};
\addplot[pb=cEQ] coordinates {(175,0)(175,38)(180,38)(180,0)};
\addplot[pb=cFMG] coordinates {(5,0)(5,22)(10,22)(10,0)};
\addplot[pb=cFMG] coordinates {(350,0)(350,20)(355,20)(355,0)};
\addplot[pb=cSyn] coordinates {(350,0)(350,24)(355,24)(355,110)(360,110)(360,107.7)(365,107.7)(365,26)(370,26)(370,0)};
\addplot[pb=cSyn] coordinates {(175,0)(175,38)(180,38)(180,36)(185,36)(185,0)};
\addplot[cSS, line width=1.3pt] coordinates {(310,0)(320,0.6)(330,4.5)(335,10.1)(340,19.7)(345,33.0)(350,47.8)(355,59.7)(360,64.3)(365,59.7)(370,47.8)(375,33.0)(380,19.7)(385,10.1)(390,4.5)(400,0.6)(410,0)(490,0)(500,0.6)(510,3.0)(515,5.6)(520,9.2)(525,13.5)(530,17.9)(535,21.1)(540,22.3)(545,21.1)(550,17.9)(555,13.5)(560,9.2)(565,5.6)(570,3.0)(580,0.6)(590,0)(670,0)};
\addplot[black, line width=1.6pt] coordinates {(310,0)(320,0.4)(330,3.4)(335,7.6)(340,14.9)(345,25.0)(350,36.2)(355,45.2)(360,48.7)(365,45.2)(370,36.2)(375,25.0)(380,14.9)(385,7.6)(390,3.4)(400,0.4)(410,0)(490,0)(500,0.9)(510,4.1)(515,7.6)(520,12.6)(525,18.6)(530,24.6)(535,29.0)(540,30.7)(545,29.0)(550,24.6)(555,18.6)(560,12.6)(565,7.6)(570,4.1)(580,0.9)(590,0)(670,0)};
\end{polaraxis}

% g) delta
\begin{axis}[dax, width=261.3pt, height=64.3pt, at={(31pt,-1246pt)},
  xmin=0, xmax=360, ymin=-5.24, ymax=4.76, xtick={0,50,100,150,200,250,300,350}]
\addplot[black, line width=0.6pt] coordinates {(0,0)(360,0)};
\addplot[dl=cFMG] coordinates {(0,4.4)(8,3.0)(15,1.2)(25,0)(40,-0.3)(60,-0.1)(100,0)(150,0)(160,-0.8)(170,-3.0)(180,-4.8)(190,-3.0)(200,-0.8)(215,-0.2)(240,0)(300,0)(320,-0.3)(330,-0.6)(340,0.5)(350,2.5)(360,4.4)};
\addplot[dl=cCTMC] coordinates {(0,3.8)(10,2.2)(20,0.5)(30,0)(150,0)(162,-0.6)(172,-2.5)(180,-4.0)(188,-2.5)(198,-0.6)(210,0)(320,0)(335,0.3)(345,1.5)(352,3.0)(360,4.0)};
\addplot[dl=cJODO] coordinates {(0,-0.3)(10,0.3)(20,0.3)(35,0)(120,-0.2)(165,-0.5)(180,-1.0)(195,-0.2)(210,0.2)(330,0)(350,0.3)(360,-0.2)};
\addplot[dl=cMiDi] coordinates {(0,1.3)(10,1.1)(20,0.2)(30,-0.2)(50,-0.2)(155,0)(168,-0.8)(180,-1.8)(192,-0.8)(205,0)(330,0)(345,0.4)(360,1.2)};
\addplot[dl=cEQ] coordinates {(0,2.0)(10,1.2)(20,0.3)(30,0)(155,0)(170,-1.2)(180,-2.0)(190,-1.2)(205,0)(330,0)(345,0.7)(360,2.0)};
\addplot[dl=cSemla] coordinates {(0,2.6)(10,1.5)(20,0.4)(30,0)(155,0)(168,-1.0)(180,-2.5)(192,-1.0)(205,0)(330,0)(345,0.8)(360,2.2)};
\addplot[dl=cSemlaR] coordinates {(0,1.6)(10,1.0)(20,0.2)(30,0)(160,0)(170,-0.5)(180,-1.0)(190,-0.5)(200,0.2)(215,0)(330,0)(345,0.6)(360,1.3)};
\addplot[dth] coordinates {(0,-0.5)(10,-0.3)(20,0.1)(35,0.1)(50,0.2)(70,0.4)(100,0.3)(130,0.4)(150,0.1)(165,-0.8)(180,-1.6)(195,-0.8)(210,0.1)(240,0.3)(270,0.2)(300,0.4)(320,0.1)(340,0)(360,-0.6)};
\end{axis}

% ---------------- h) sp3C-sp3C-sp3C-sp3N
\begin{polaraxis}[pol=252pt, at={(476.7pt,-1030pt)}, ymax=126,
  ytick={19.3,38.6,57.9,77.2,96.5,115.8}]
\addplot[pb=cJODO] coordinates {(300,0)(300,88)(305,88)(305,0)};
\addplot[pb=cJODO] coordinates {(415,0)(415,123)(420,123)(420,0)};
\addplot[pb=cJODO] coordinates {(175,0)(175,35)(180,35)(180,0)};
\addplot[pb=cJODO] coordinates {(330,0)(330,30)(335,30)(335,0)};
\addplot[pb=cFMG] coordinates {(385,0)(385,50)(390,50)(390,0)};
\addplot[pb=cFMG] coordinates {(375,0)(375,45)(380,45)(380,0)};
\addplot[pb=cFMG] coordinates {(120,0)(120,24)(125,24)(125,0)};
\addplot[pb=cFMG] coordinates {(150,0)(150,20)(155,20)(155,0)};
\addplot[pb=cFMG] coordinates {(235,0)(235,15)(240,15)(240,0)};
\addplot[pb=cFMG] coordinates {(345,0)(345,25)(350,25)(350,0)};
\addplot[pb=cSemlaR] coordinates {(365,0)(365,40)(370,40)(370,0)};
\addplot[pb=cSemlaR] coordinates {(355,0)(355,45)(360,45)(360,0)};
\addplot[pb=cSemlaR] coordinates {(185,0)(185,30)(190,30)(190,0)};
\addplot[pb=cMiDi] coordinates {(172,0)(172,47)(176,47)(176,0)};
\addplot[pb=cMiDi] coordinates {(230,0)(230,22)(235,22)(235,0)};
\addplot[pb=cMiDi] coordinates {(410,0)(410,62)(415,62)(415,0)};
\addplot[pb=cMiDi] coordinates {(295,0)(295,55)(300,55)(300,0)};
\addplot[pb=cMiDi] coordinates {(140,0)(140,15)(145,15)(145,0)};
\addplot[pb=cEQ] coordinates {(405,0)(405,60)(410,60)(410,0)};
\addplot[pb=cEQ] coordinates {(205,0)(205,15)(210,15)(210,0)};
\addplot[pb=cSemla] coordinates {(295,0)(295,48)(300,48)(300,0)};
\addplot[pb=cSemla] coordinates {(400,0)(400,45)(405,45)(405,0)};
\addplot[pb=cSyn] coordinates {(290,0)(290,20)(295,20)(295,38)(300,38)(300,55)(305,55)(305,52)(310,52)(310,48)(315,48)(315,40)(320,40)(320,38)(325,38)(325,36)(330,36)(330,35)(335,35)(335,34)(340,34)(340,35)(345,35)(345,36)(350,36)(350,38)(355,38)(355,40)(360,40)(360,38)(365,38)(365,36)(370,36)(370,35)(375,35)(375,34)(380,34)(380,33)(385,33)(385,32)(390,32)(390,34)(395,34)(395,38)(400,38)(400,44)(405,44)(405,50)(410,50)(410,55)(415,55)(415,58)(420,58)(420,40)(425,40)(425,20)(430,20)(430,5)(435,5)(435,0)};
\addplot[pb=cSyn] coordinates {(165,0)(165,8)(170,8)(170,15)(175,15)(175,28)(180,28)(180,32)(185,32)(185,25)(190,25)(190,12)(195,12)(195,0)};
\addplot[cSS, line width=1.3pt] coordinates {(0,42)(15,42)(24,41.8)(32,38)(40,36)(48,45)(55,46)(62,35)(70,20)(80,8)(95,2)(120,1)(150,5)(165,18)(172,26)(180,30)(188,26)(195,18)(210,5)(240,1)(265,2)(280,8)(290,20)(298,40)(305,47)(312,45)(320,36)(327,39.8)(340,42)(351,42.2)(360,42)};
\addplot[black, line width=1.6pt] coordinates {(0,10.7)(10,11.5)(20,14)(28,19)(34,24)(40,41)(44.5,57)(48,67)(52,76)(57,79.5)(59.5,70)(60.5,42)(61,19)(62,5)(65,1)(75,0.3)(120,0)(150,0.5)(155,6)(160,14)(165,24)(170,33)(175,37.5)(180,39.3)(185,37.5)(190,33)(195,24)(200,14)(205,6)(210,0.5)(240,0)(285,0.3)(295,1)(298,5)(299,19)(299.5,42)(300.5,70)(303,79.5)(308,76)(312,67)(315.5,57)(320,41)(326,24)(332,19)(340,14)(350,11.5)(360,10.7)};
\end{polaraxis}

% h) delta
\begin{axis}[dax, width=261pt, height=64.3pt, at={(349pt,-1246pt)},
  xmin=0, xmax=360, ymin=-6.73, ymax=3.27, xtick={0,50,100,150,200,250,300,350}]
\addplot[black, line width=0.6pt] coordinates {(0,0)(360,0)};
\addplot[dl=cFMG] coordinates {(0,1.7)(15,1.9)(30,1.0)(42,-1.0)(50,-4.5)(57,-5.7)(64,-4.0)(72,-0.8)(82,1.5)(95,2.9)(105,2.5)(120,2.0)(140,2.0)(155,1.2)(168,-0.5)(180,-2.2)(192,-0.8)(205,0.5)(230,1.2)(255,2.0)(270,1.4)(285,0.2)(295,-3.5)(302,-6.3)(310,-4.0)(320,-0.3)(335,1.5)(360,1.7)};
\addplot[dl=cCTMC] coordinates {(0,1.0)(20,1.5)(35,0.3)(48,-3.5)(57,-6.3)(66,-3.5)(76,0)(90,1.8)(105,1.6)(125,1.0)(150,0.5)(165,-0.7)(180,-2.6)(195,-0.7)(210,1.0)(240,1.0)(265,1.5)(285,0)(295,-3.5)(302,-5.8)(310,-3.0)(322,0.5)(340,1.8)(360,1.8)};
\addplot[dl=cJODO] coordinates {(0,0.3)(20,0.4)(35,-0.2)(48,-1.0)(57,-1.5)(66,-0.8)(78,0.3)(95,0.8)(120,0.5)(150,0.1)(170,-0.6)(180,-1.2)(192,-0.4)(210,0.2)(250,0.6)(285,0.2)(295,-1.0)(302,-1.8)(312,-0.6)(325,0.3)(360,0.3)};
\addplot[dl=cMiDi] coordinates {(0,0.8)(20,0.8)(35,0)(48,-2.5)(57,-3.8)(66,-2.3)(78,0.4)(95,1.0)(120,0.7)(150,0.3)(168,-0.8)(180,-1.6)(192,-0.6)(210,0.5)(250,0.9)(280,0.7)(292,-1.5)(302,-3.2)(312,-1.2)(325,0.5)(345,0.8)(360,0.8)};
\addplot[dl=cEQ] coordinates {(0,1.3)(20,1.0)(35,0)(48,-2.5)(57,-3.5)(66,-2.0)(78,0.5)(95,1.3)(120,1.0)(150,0.5)(168,-0.6)(180,-1.5)(192,-0.5)(210,0.6)(250,1.0)(280,0.6)(292,-1.5)(302,-3.5)(312,-1.5)(325,0.5)(345,1.0)(360,1.3)};
\addplot[dl=cSemla] coordinates {(0,0.5)(20,0.6)(35,0)(48,-1.8)(57,-2.6)(66,-1.5)(78,0.4)(95,1.0)(120,0.6)(150,0.2)(168,-0.8)(180,-1.3)(192,-0.4)(210,0.3)(250,0.8)(285,0.3)(295,-1.2)(302,-2.5)(312,-1.0)(325,0.4)(345,0.6)(360,0.5)};
\addplot[dl=cSemlaR] coordinates {(0,0.6)(15,0)(25,-0.6)(35,0.2)(45,0.6)(55,0.2)(65,-0.6)(75,0.5)(95,0.7)(120,0.4)(150,0)(165,-0.6)(180,-1.0)(195,-0.3)(210,0)(250,0.4)(280,0.2)(295,-0.5)(305,0.3)(320,-0.6)(335,0.4)(360,0.8)};
\addplot[dth] coordinates {(0,-0.1)(15,-0.4)(28,0.5)(43,1.9)(52,1.0)(63,0)(100,0)(150,-0.1)(165,-0.7)(180,-1.7)(195,-0.8)(215,0)(270,0)(285,-0.3)(293,-0.6)(305,0.6)(319,1.6)(332,0.6)(342,0)(360,-0.1)};
\end{axis}

% ---------------- texts
\begin{scope}[every node/.style={text=tickc}]
\node[font=\fTtl] at (187pt,-25pt) {sp2C-sp2N};
\node[font=\fLbl] at (187pt,-307pt) {Length / Å};
\node[font=\fLbl, rotate=90] at (22pt,-155pt) {Density};
\node[font=\fLbl, rotate=90] at (53pt,-366.7pt) {Δ w. data};
\node[font=\fLbl] at (184pt,-425pt) {Bond length / Å};

\node[font=\fTtl] at (495pt,-22.7pt) {sp3C-sp3C};
\node[font=\fLbl] at (495pt,-306pt) {Length / Å};
\node[font=\fLbl, rotate=90] at (341pt,-155pt) {Density};
\node[font=\fLbl, rotate=90] at (362pt,-363pt) {Δ w. data};
\node[font=\fLbl] at (493pt,-423pt) {Bond length / Å};

\node[font=\fontsize{11.4}{13}\selectfont] at (798pt,-22pt) {GFN2-xTB};
\node[font=\fLbl, rotate=90] at (650pt,-173pt) {Density};
\node[font=\fLbl] at (798pt,-338pt) {Energy / kcal mol\textsuperscript{−1}};

\node[font=\fTtl] at (157.7pt,-449pt) {sp3C-sp3C-sp3C};
\node[font=\fLbl, rotate=90] at (22pt,-790pt) {Δ w. data};
\node[font=\fLbl] at (161pt,-851pt) {Angle / °};

\node[font=\fTtl] at (476.7pt,-449pt) {sp2C-sp2C-sp2C};
\node[font=\fLbl, rotate=90] at (340pt,-790pt) {Δ w. data};
\node[font=\fLbl] at (480pt,-851pt) {Angle / °};

\node[font=\fTtl] at (784.3pt,-425pt) {sp3C-sp3C-sp3N};
\node[font=\fLbl, rotate=90] at (648pt,-766.7pt) {Δ w. data};
\node[font=\fLbl] at (787pt,-824.3pt) {Angle / °};

\node[font=\fTtl] at (158.3pt,-871.7pt) {sp2C-sp2C-sp2N-sp2C};
\node[font=\fLbl, rotate=90] at (21pt,-1213pt) {Δ w. data};
\node[font=\fLbl] at (161.7pt,-1271.7pt) {Dihedral / °};

\node[font=\fTtl] at (476.7pt,-871.7pt) {sp3C-sp3C-sp3C-sp3N};
\node[font=\fLbl, rotate=90] at (340pt,-1213pt) {Δ w. data};
\node[font=\fLbl] at (479.5pt,-1271.7pt) {Dihedral / °};
\end{scope}

% ridge labels
\begin{scope}[every node/.style={anchor=west, font=\fRl}]
\node[text=black] at (831.7pt,-45.7pt) {Geom-Drugs};
\node[text=cSS] at (831.7pt,-68.3pt) {SynSpace};
\node[text=cFMG] at (831.7pt,-98.3pt) {FlowMol-Gauss};
\node[text=cCTMC] at (831.7pt,-130.7pt) {FlowMol-CTMC};
\node[text=cJODO] at (831.7pt,-157.3pt) {JODO};
\node[text=cMiDi] at (831.7pt,-183.3pt) {MiDi};
\node[text=cEQ] at (831.7pt,-211.7pt) {EQGAT-Diff};
\node[text=cSemla] at (831.7pt,-241.7pt) {SemlaFlow};
\node[text=cSemlaR] at (831.7pt,-270pt) {SemlaFlow-retrained};
\node[text=cSyn] at (831.7pt,-297.7pt) {SynCoGen};
\end{scope}

% panel letters
\begin{scope}[every node/.style={font=\fPl, text=black}]
\node at (27pt,-29pt) {a)};
\node at (326pt,-29pt) {b)};
\node at (679pt,-31pt) {c)};
\node at (27pt,-492pt) {d)};
\node at (324pt,-492pt) {e)};
\node at (643pt,-492pt) {f)};
\node at (25pt,-956pt) {g)};
\node at (322pt,-956pt) {h)};
\end{scope}

% legend
\draw[framec, line width=0.7pt, rounded corners=1.5pt] (664.3pt,-862.7pt) rectangle (879.3pt,-1079pt);
\begin{scope}[every node/.style={anchor=west, font=\fLg, text=tickc}]
\fill[cFMG, fill opacity=0.5, draw=cFMG] (677.7pt,-877.3pt) rectangle (706.7pt,-887.3pt);
\node at (717.7pt,-882.3pt) {FlowMol-Gauss};
\fill[cCTMC, fill opacity=0.5, draw=cCTMC] (677.7pt,-897.8pt) rectangle (706.7pt,-907.8pt);
\node at (717.7pt,-902.8pt) {FlowMol-CTMC};
\fill[cJODO, fill opacity=0.5, draw=cJODO] (677.7pt,-918.3pt) rectangle (706.7pt,-928.3pt);
\node at (717.7pt,-923.3pt) {JODO};
\fill[cMiDi, fill opacity=0.5, draw=cMiDi] (677.7pt,-938.8pt) rectangle (706.7pt,-948.8pt);
\node at (717.7pt,-943.8pt) {MiDi};
\fill[cEQ, fill opacity=0.5, draw=cEQ] (677.7pt,-959.3pt) rectangle (706.7pt,-969.3pt);
\node at (717.7pt,-964.3pt) {EQGAT-Diff};
\fill[cSemla, fill opacity=0.5, draw=cSemla] (677.7pt,-979.8pt) rectangle (706.7pt,-989.8pt);
\node at (717.7pt,-984.8pt) {SemlaFlow};
\fill[cSemlaR, fill opacity=0.5, draw=cSemlaR] (677.7pt,-1000.3pt) rectangle (706.7pt,-1010.3pt);
\node at (717.7pt,-1005.3pt) {SemlaFlow-retrained};
\fill[cSyn, fill opacity=0.5, draw=cSyn] (677.7pt,-1020.8pt) rectangle (706.7pt,-1030.8pt);
\node at (717.7pt,-1025.8pt) {SynCoGen};
\draw[cSS, line width=2.5pt] (677.7pt,-1046.3pt) -- (706.7pt,-1046.3pt);
\node at (717.7pt,-1046.3pt) {SynSpace};
\draw[black, line width=2.5pt] (677.7pt,-1066.8pt) -- (706.7pt,-1066.8pt);
\node at (717.7pt,-1066.8pt) {Geom-Drugs};
\end{scope}
\end{tikzpicture}
\end{document}
